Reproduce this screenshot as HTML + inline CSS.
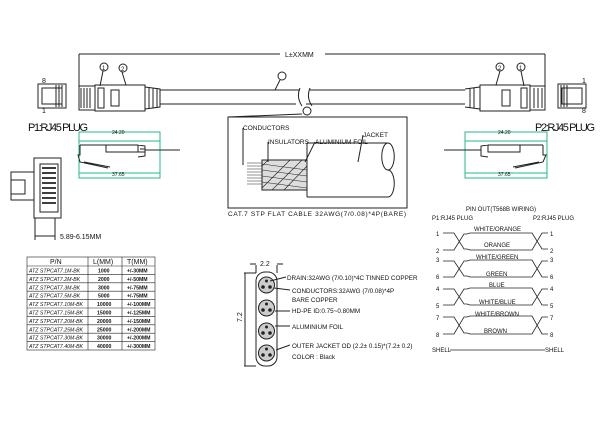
<!DOCTYPE html><html><head><style>body{margin:0;background:#fff}svg{display:block}text{font-family:"Liberation Sans",sans-serif;fill:#111}</style></head><body>
<svg width="600" height="427" viewBox="0 0 600 427" xmlns="http://www.w3.org/2000/svg" stroke="#222" fill="none" stroke-width="1">
<rect width="600" height="427" fill="#fff" stroke="none"/>
<path d="M79 54H280M325 54H545M79 54V86M545 54V86"/>
<text x="285" y="57" font-size="7" stroke="none">L±XXMM</text>
<rect x="79" y="86" width="16" height="24"/><path d="M81 88V108M84 88V108M87 88V108M90 88V108"/>
<rect x="95" y="85" width="50" height="26"/><rect x="98" y="88" width="6" height="20"/><rect x="111" y="90" width="8" height="16"/>
<path d="M145 87L160 89V107L145 109M149 88V108M153 88V108M157 89V107"/>
<circle cx="104" cy="67" r="4"/><circle cx="123" cy="68" r="4"/><path d="M103 71L100 86M122 72L126 85"/>
<text x="102" y="70" font-size="6" stroke="none">1</text><text x="121" y="71" font-size="6" stroke="none">2</text>
<rect x="38" y="84" width="28" height="24"/><path d="M42 88H62V104H42Z M56 85V107M59 85V107M62 85V107"/>
<text x="42" y="83" font-size="7" stroke="none">8</text><text x="42" y="113" font-size="7" stroke="none">1</text>
<text x="28" y="131" font-size="11" stroke="none" textLength="60">P1:RJ45 PLUG</text>
<path d="M160 90H300M160 104H296M310 90H465M306 104H465M300 88Q296 97 302 106M310 88Q306 97 312 106"/>
<circle cx="282" cy="76" r="4"/><path d="M280 80L275 90"/><circle cx="307" cy="111" r="4"/><path d="M302 114L228 117"/>
<path d="M465 89L480 87V109L465 107M470 88V108M474 88V108"/>
<rect x="480" y="85" width="50" height="26"/><rect x="502" y="90" width="8" height="16"/><rect x="521" y="88" width="6" height="20"/>
<rect x="530" y="86" width="15" height="24"/><path d="M534 88V108M538 88V108M542 88V108"/>
<circle cx="500" cy="67" r="4"/><circle cx="521" cy="67" r="4"/><path d="M500 71L496 85M521 71L524 86"/>
<text x="498" y="70" font-size="6" stroke="none">2</text><text x="519" y="70" font-size="6" stroke="none">1</text>
<rect x="558" y="84" width="28" height="24"/><path d="M562 88H582V104H562Z M561 85V107M564 85V107M567 85V107"/>
<text x="582" y="83" font-size="7" stroke="none">1</text><text x="582" y="113" font-size="7" stroke="none">8</text>
<text x="535" y="131" font-size="11" stroke="none" textLength="60">P2:RJ45 PLUG</text>
<rect x="79" y="132" width="81" height="46" stroke="#2b8"/><path d="M79 141H160M79 173H160" stroke="#2b8"/>
<text x="112" y="134" font-size="5" fill="#2b8" stroke="none">24.20</text><text x="112" y="176" font-size="5" fill="#2b8" stroke="none">37.65</text>
<path d="M80 145H106V152H138V145H106M80 145V155L78 155 80 162 108 168M84 162L110 167M138 145L145 146V156L138 157M140 149H145M145 150H180M138 152H145"/>
<rect x="465" y="132" width="82" height="46" stroke="#2b8"/><path d="M465 141H547M465 173H547" stroke="#2b8"/>
<text x="498" y="134" font-size="5" fill="#2b8" stroke="none">24.20</text><text x="498" y="176" font-size="5" fill="#2b8" stroke="none">37.65</text>
<path d="M543 145H520V152H488V145H520M543 145V155L546 155 543 162 515 168M539 162L513 167M488 145L481 146V156L488 157M481 150H444"/>
<rect x="228" y="117" width="179" height="91"/>
<rect x="262" y="160" width="45" height="30" fill="#ddd"/>
<path d="M262 164L307 170M262 170L307 176M262 176L307 182M262 182L307 188M262 188L290 160M272 190L302 160M284 190L307 166M262 166L268 160" stroke-width="0.6"/>
<path d="M307 143H388M307 197H388M307 143V197M388 143a6 13 0 0 1 0 27a6 13 0 0 1 0 27M388 143a6 13 0 0 0 0 27"/>
<path d="M247 163H262M247 166H262M247 169H262M247 172H262M247 175H262M247 178H262M247 181H262M247 184H262" stroke-width="0.6"/>
<text x="243" y="130" font-size="6.5" stroke="none">CONDUCTORS</text><path d="M243 128V165"/>
<text x="268" y="144" font-size="6.5" stroke="none">INSULATORS</text><path d="M268 142V162"/>
<text x="315" y="144" font-size="6.5" stroke="none">ALUMINIUM FOIL</text><path d="M315 142L305 162"/>
<text x="363" y="137" font-size="6.5" stroke="none">JACKET</text><path d="M363 135L358 162"/>
<text x="228" y="216" font-size="6.5" stroke="none" textLength="178">CAT.7 STP FLAT CABLE 32AWG(7/0.08)*4P(BARE)</text>
<rect x="34" y="158" width="27" height="60"/><rect x="40" y="164" width="18" height="48"/>
<rect x="11" y="172" width="23" height="28"/><rect x="11" y="180" width="14" height="14"/>
<path d="M42 168H56M42 173H56M42 178H56M42 183H56M42 188H56M42 193H56M42 198H56M42 203H56" stroke-width="1.8"/>
<path d="M35 218V240M55 218V240M35 236H55"/>
<text x="60" y="239" font-size="7" stroke="none">5.89-6.15MM</text>
<g stroke-width="0.6">
<rect x="27" y="257" width="128" height="93"/><path d="M88 257V350M122 257V350"/>
<path d="M27 266H155M27 274.4H155M27 282.8H155M27 291.2H155M27 299.6H155M27 308H155M27 316.4H155M27 324.8H155M27 333.2H155M27 341.6H155"/>
</g>
<g font-size="5.2" stroke="none">
<text x="50" y="264" font-size="7">P/N</text><text x="93" y="264" font-size="7">L(MM)</text><text x="127" y="264" font-size="7">T(MM)</text>
<g font-style="italic"><text x="29" y="272.5">ATZ STPCAT7.1M-BK</text><text x="29" y="280.9">ATZ STPCAT7.2M-BK</text><text x="29" y="289.3">ATZ STPCAT7.3M-BK</text><text x="29" y="297.7">ATZ STPCAT7.5M-BK</text><text x="29" y="306.1">ATZ STPCAT7.10M-BK</text><text x="29" y="314.5">ATZ STPCAT7.15M-BK</text><text x="29" y="322.9">ATZ STPCAT7.20M-BK</text><text x="29" y="331.3">ATZ STPCAT7.25M-BK</text><text x="29" y="339.7">ATZ STPCAT7.30M-BK</text><text x="29" y="348.1">ATZ STPCAT7.40M-BK</text></g>
<g font-weight="bold"><text x="98" y="272.5">1000</text><text x="98" y="280.9">2000</text><text x="98" y="289.3">3000</text><text x="98" y="297.7">5000</text><text x="97" y="306.1">10000</text><text x="97" y="314.5">15000</text><text x="97" y="322.9">20000</text><text x="97" y="331.3">25000</text><text x="97" y="339.7">30000</text><text x="97" y="348.1">40000</text>
<text x="127" y="272.5">+/-30MM</text><text x="127" y="280.9">+/-50MM</text><text x="127" y="289.3">+/-75MM</text><text x="127" y="297.7">+/-75MM</text><text x="127" y="306.1">+/-100MM</text><text x="127" y="314.5">+/-125MM</text><text x="127" y="322.9">+/-150MM</text><text x="127" y="331.3">+/-200MM</text><text x="127" y="339.7">+/-200MM</text><text x="127" y="348.1">+/-300MM</text></g>
</g>
<path d="M256 265V273M277 265V273M250 264H256M277 264H283M244 273H256M244 366H256M245 273V366"/>
<text x="260" y="266" font-size="7" stroke="none">2.2</text>
<text x="242" y="322" font-size="7" stroke="none" transform="rotate(-90 242 322)">7.2</text>
<rect x="256" y="272" width="21" height="94" rx="9"/>
<g fill="#ccc"><circle cx="266.5" cy="285" r="8"/><circle cx="266.5" cy="308" r="8"/><circle cx="266.5" cy="331" r="8"/><circle cx="266.5" cy="353" r="8"/></g>
<g fill="#222" stroke="none"><circle cx="263" cy="287" r="1.8"/><circle cx="270" cy="287" r="1.8"/><circle cx="266.5" cy="281" r="1.5"/><circle cx="263" cy="310" r="1.8"/><circle cx="270" cy="310" r="1.8"/><circle cx="266.5" cy="304" r="1.5"/><circle cx="263" cy="333" r="1.8"/><circle cx="270" cy="333" r="1.8"/><circle cx="266.5" cy="327" r="1.5"/><circle cx="263" cy="355" r="1.8"/><circle cx="270" cy="355" r="1.8"/><circle cx="266.5" cy="349" r="1.5"/></g>
<path d="M270 281L286 277M274 288L290 290M275 311L290 311M275 326L290 326M276 350L290 345"/>
<g font-size="6.3" stroke="none"><text x="287" y="280">DRAIN:32AWG (7/0.10)*4C TINNED COPPER</text><text x="292" y="293">CONDUCTORS:32AWG (7/0.08)*4P</text><text x="292" y="302">BARE COPPER</text><text x="292" y="313">HD-PE ID:0.75~0.80MM</text><text x="292" y="329">ALUMINIUM FOIL</text><text x="292" y="348">OUTER JACKET OD (2.2± 0.15)*(7.2± 0.2)</text><text x="292" y="359">COLOR : Black</text></g>
<g font-size="6" stroke="none"><text x="466" y="211">PIN OUT(T568B WIRING)</text><text x="432" y="220">P1:RJ45 PLUG</text><text x="533" y="220">P2:RJ45 PLUG</text>
<text x="436" y="236">1</text><text x="436" y="253">2</text><text x="436" y="262">3</text><text x="436" y="279">6</text><text x="436" y="291">4</text><text x="436" y="308">5</text><text x="436" y="320">7</text><text x="436" y="337">8</text>
<text x="550" y="236">1</text><text x="550" y="253">2</text><text x="550" y="262">3</text><text x="550" y="279">6</text><text x="550" y="291">4</text><text x="550" y="308">5</text><text x="550" y="320">7</text><text x="550" y="337">8</text>
<text x="474" y="231">WHITE/ORANGE</text><text x="484" y="247">ORANGE</text><text x="476" y="259">WHITE/GREEN</text><text x="486" y="276">GREEN</text><text x="489" y="287">BLUE</text><text x="479" y="304">WHITE/BLUE</text><text x="475" y="316">WHITE/BROWN</text><text x="484" y="333">BROWN</text>
<text x="432" y="352">SHELL</text><text x="545" y="352">SHELL</text></g>
<g stroke-width="0.8">
<path d="M443 233H454L464 249H467M443 250H454L464 234H467L470 233H528M467 249L470 250H528M528 233H532L542 249H548M528 250H532L542 233H548"/>
<path d="M443 261H454L464 276H467M443 277H454L464 261H467L470 260H528M467 276L470 277H528M528 260H532L542 277H548M528 277H532L542 261H548"/>
<path d="M443 289H454L464 304H467M443 305H454L464 289H467L470 288H528M467 304L470 305H528M528 288H532L542 305H548M528 305H532L542 289H548"/>
<path d="M443 317H454L464 333H467M443 334H454L464 317H467L470 316H528M467 333L470 334H528M528 316H532L542 334H548M528 334H532L542 317H548"/>
<path d="M450 350H545"/>
</g>
</svg></body></html>
